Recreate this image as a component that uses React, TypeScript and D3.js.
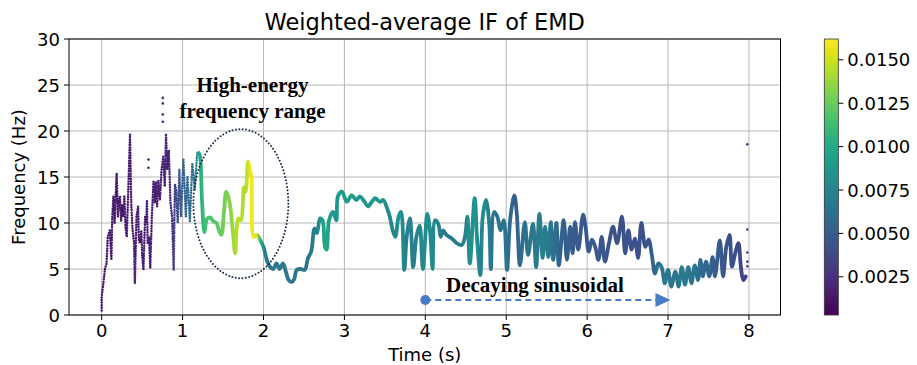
import React from "react";
import * as d3 from "d3";

// ---------- data ----------
// early (0–1.2 s), sparse oscillating samples
const EARLY_T = [0.0, 0.0, 0.02, 0.04, 0.06, 0.075, 0.09, 0.1, 0.12, 0.13, 0.145, 0.16, 0.175, 0.185, 0.2, 0.215, 0.226, 0.24, 0.255, 0.267, 0.28, 0.295, 0.31, 0.33, 0.35, 0.365, 0.38, 0.4, 0.41, 0.43, 0.45, 0.46, 0.475, 0.49, 0.5, 0.516, 0.537, 0.55, 0.56, 0.568, 0.585, 0.6, 0.62, 0.64, 0.655, 0.67, 0.685, 0.7, 0.72, 0.74, 0.76, 0.78, 0.795, 0.81, 0.83, 0.85, 0.87, 0.89, 0.905, 0.92, 0.94, 0.96, 0.98, 1.01, 1.04, 1.06, 1.09, 1.12, 1.15, 1.18, 1.2];
const EARLY_F = [0.5, 2.0, 3.4, 5.0, 5.6, 8.5, 8.9, 9.2, 6.0, 10.5, 12.9, 10.0, 13.5, 15.4, 10.7, 12.5, 12.9, 10.2, 12.0, 10.7, 12.9, 9.5, 8.5, 14.0, 19.6, 12.2, 9.5, 7.8, 3.4, 10.7, 11.8, 8.0, 7.8, 9.2, 6.5, 4.9, 10.7, 10.0, 12.5, 7.8, 8.5, 5.1, 10.7, 14.5, 12.2, 14.5, 11.8, 14.6, 12.5, 15.8, 17.2, 14.0, 19.7, 15.8, 17.9, 12.2, 10.7, 4.9, 14.2, 13.6, 10.0, 15.8, 10.7, 17.0, 10.7, 15.0, 10.2, 16.5, 13.6, 17.6, 17.6];
const EARLY_A = [0.0012, 0.0012, 0.0012, 0.0012, 0.0012, 0.0013, 0.0013, 0.0013, 0.0013, 0.0013, 0.0014, 0.0014, 0.0014, 0.0014, 0.0014, 0.0014, 0.0014, 0.0014, 0.0014, 0.0015, 0.0015, 0.0015, 0.0015, 0.0015, 0.0015, 0.0015, 0.0015, 0.0015, 0.0015, 0.0015, 0.0015, 0.0015, 0.0015, 0.0015, 0.0015, 0.0015, 0.0016, 0.0016, 0.0016, 0.0016, 0.0016, 0.0016, 0.0016, 0.0016, 0.0016, 0.0016, 0.0016, 0.0017, 0.0017, 0.0017, 0.0017, 0.0017, 0.0018, 0.0018, 0.0018, 0.002, 0.0024, 0.003, 0.0033, 0.0036, 0.004, 0.0045, 0.0048, 0.0052, 0.0055, 0.0057, 0.0058, 0.006, 0.0065, 0.008, 0.0095];

// main (1.2–7.96 s), dense samples
const MAIN_T = [1.2, 1.215, 1.24, 1.27, 1.3, 1.34, 1.38, 1.42, 1.45, 1.48, 1.51, 1.54, 1.58, 1.62, 1.65, 1.67, 1.69, 1.72, 1.76, 1.78, 1.81, 1.83, 1.85, 1.88, 1.92, 1.96, 2.0, 2.04, 2.08, 2.12, 2.16, 2.2, 2.24, 2.28, 2.31, 2.35, 2.38, 2.41, 2.46, 2.51, 2.55, 2.59, 2.63, 2.66, 2.7, 2.73, 2.76, 2.78, 2.81, 2.86, 2.9, 2.92, 2.97, 3.03, 3.09, 3.15, 3.19, 3.25, 3.29, 3.34, 3.38, 3.44, 3.48, 3.52, 3.56, 3.6, 3.63, 3.67, 3.7, 3.74, 3.77, 3.81, 3.85, 3.89, 3.93, 3.97, 4.025, 4.06, 4.09, 4.12, 4.16, 4.19, 4.22, 4.26, 4.33, 4.39, 4.45, 4.49, 4.52, 4.55, 4.61, 4.64, 4.68, 4.71, 4.75, 4.79, 4.81, 4.85, 4.89, 4.93, 4.97, 5.01, 5.05, 5.1, 5.13, 5.17, 5.23, 5.27, 5.33, 5.37, 5.41, 5.45, 5.48, 5.52, 5.55, 5.58, 5.62, 5.65, 5.71, 5.75, 5.79, 5.82, 5.85, 5.89, 5.95, 5.98, 6.02, 6.06, 6.1, 6.14, 6.18, 6.22, 6.27, 6.32, 6.37, 6.43, 6.47, 6.51, 6.55, 6.59, 6.63, 6.67, 6.72, 6.76, 6.8, 6.84, 6.88, 6.92, 6.96, 7.0, 7.04, 7.09, 7.13, 7.17, 7.21, 7.25, 7.29, 7.33, 7.37, 7.4, 7.43, 7.47, 7.51, 7.55, 7.58, 7.64, 7.68, 7.72, 7.76, 7.79, 7.83, 7.87, 7.9, 7.93, 7.96];
const MAIN_F = [17.6, 17.3, 12.5, 9.0, 10.4, 10.6, 10.2, 10.0, 9.2, 8.7, 11.0, 13.4, 12.3, 9.2, 6.7, 9.5, 10.5, 10.3, 13.9, 13.4, 16.7, 15.8, 15.0, 8.5, 8.7, 8.1, 7.4, 6.0, 5.25, 5.0, 5.6, 5.0, 5.6, 4.6, 3.8, 3.6, 3.9, 4.9, 5.0, 4.9, 6.2, 6.9, 9.4, 8.9, 10.5, 10.3, 7.4, 7.1, 10.3, 11.2, 10.3, 12.9, 13.4, 12.3, 13.0, 12.5, 12.9, 12.3, 11.8, 12.3, 12.7, 12.3, 12.5, 11.8, 10.7, 9.1, 8.5, 10.7, 11.2, 4.9, 8.5, 10.5, 5.2, 8.5, 9.7, 5.0, 11.0, 8.9, 5.0, 10.3, 9.9, 8.5, 9.2, 8.7, 8.3, 7.8, 7.6, 8.5, 10.7, 5.6, 12.7, 8.2, 4.35, 10.7, 12.5, 9.9, 5.0, 11.2, 10.7, 9.2, 10.3, 4.9, 10.5, 13.0, 11.1, 5.4, 10.1, 6.5, 9.9, 5.2, 11.0, 6.2, 9.6, 6.3, 10.1, 6.0, 10.0, 5.4, 10.3, 6.0, 9.6, 6.7, 10.1, 7.1, 10.9, 9.6, 6.9, 8.2, 7.4, 6.0, 8.5, 5.8, 7.8, 9.6, 7.8, 10.7, 6.7, 9.2, 7.1, 8.3, 6.2, 10.0, 7.4, 8.2, 6.5, 4.5, 5.6, 5.2, 3.45, 4.9, 3.1, 4.7, 3.1, 5.2, 3.3, 5.2, 3.45, 5.4, 3.8, 6.0, 4.2, 5.8, 4.2, 6.3, 4.2, 8.1, 4.2, 7.4, 8.7, 5.25, 6.7, 7.8, 5.25, 3.8, 4.2];
const MAIN_A = [0.0095, 0.01, 0.0108, 0.0112, 0.0115, 0.0118, 0.012, 0.0122, 0.0124, 0.0125, 0.0128, 0.013, 0.0132, 0.0138, 0.0142, 0.0145, 0.0146, 0.0145, 0.0142, 0.0145, 0.015, 0.0158, 0.016, 0.0158, 0.015, 0.0105, 0.008, 0.0068, 0.0065, 0.0065, 0.0066, 0.0066, 0.0067, 0.0066, 0.0066, 0.0066, 0.0066, 0.0066, 0.0066, 0.0064, 0.0064, 0.0066, 0.007, 0.0075, 0.0085, 0.0092, 0.0098, 0.0098, 0.0092, 0.0088, 0.0086, 0.0088, 0.009, 0.009, 0.009, 0.0089, 0.0088, 0.0087, 0.0086, 0.0086, 0.0086, 0.0085, 0.0085, 0.0082, 0.0078, 0.0075, 0.0075, 0.0085, 0.0085, 0.0072, 0.007, 0.0075, 0.007, 0.0074, 0.0076, 0.0078, 0.0082, 0.008, 0.0078, 0.008, 0.0074, 0.007, 0.0068, 0.0068, 0.0068, 0.0068, 0.007, 0.0074, 0.008, 0.0082, 0.0085, 0.0082, 0.007, 0.008, 0.0078, 0.007, 0.0065, 0.0065, 0.0064, 0.0064, 0.0064, 0.0062, 0.0056, 0.005, 0.0052, 0.0058, 0.0062, 0.0066, 0.0068, 0.0068, 0.007, 0.007, 0.007, 0.0068, 0.0066, 0.0062, 0.0058, 0.0055, 0.005, 0.005, 0.005, 0.0048, 0.0048, 0.0047, 0.0047, 0.0046, 0.0046, 0.0048, 0.0048, 0.0046, 0.0044, 0.0044, 0.0043, 0.0043, 0.0043, 0.0042, 0.0043, 0.0043, 0.0043, 0.0043, 0.0043, 0.0042, 0.0043, 0.0045, 0.005, 0.0058, 0.0062, 0.0065, 0.0066, 0.0066, 0.0066, 0.0066, 0.0067, 0.0067, 0.0067, 0.0066, 0.0065, 0.0064, 0.0062, 0.006, 0.0058, 0.0056, 0.0054, 0.005, 0.005, 0.0046, 0.0046, 0.0044, 0.0042, 0.0042, 0.004, 0.0038, 0.0036, 0.0034, 0.0032];

// isolated outlier dots
const DOT_T = [0.578, 0.578, 0.755, 0.755, 0.755, 0.755, 7.98, 7.98, 7.98, 7.98, 7.98];
const DOT_F = [16.9, 16.0, 23.6, 23.0, 21.8, 21.0, 18.55, 9.3, 6.8, 5.8, 5.3];
const DOT_A = [0.0016, 0.0016, 0.0017, 0.0017, 0.0017, 0.0017, 0.0028, 0.0028, 0.0028, 0.0028, 0.0028];

const X_TICKS = [0, 1, 2, 3, 4, 5, 6, 7, 8];
const Y_TICKS = [0, 5, 10, 15, 20, 25, 30];
const CB_TICKS = [0.0025, 0.005, 0.0075, 0.01, 0.0125, 0.015];
const CB_DOMAIN = [0.0003, 0.0162];

const TITLE = "Weighted-average IF of EMD";
const X_LABEL = "Time (s)";
const Y_LABEL = "Frequency (Hz)";
const NOTE1 = ["High-energy", "frequency range"];
const NOTE2 = "Decaying sinusoidal";
// annotation ellipse (data coords): centre t, centre f, radius t, radius f
const ELLIPSE = [1.72, 12.1, 0.587, 8.1];
// arrow: start t, end t, f
const ARROW = [4.0, 7.03, 1.63];

// ---------- layout ----------
const W = 917;
const H = 365;
const L = 69, R = 780.5, T = 39, B = 315;
const CBX = 824.3, CBW = 14;

export default function App() {
  const x = d3.scaleLinear().domain([-0.404, 8.39]).range([L, R]);
  const y = d3.scaleLinear().domain([0, 30]).range([B, T]);
  const color = d3.scaleSequential(d3.interpolateViridis).domain(CB_DOMAIN as [number, number]);
  const cb = d3.scaleLinear().domain(CB_DOMAIN).range([B, T]);
  const font = "DejaVu Sans, sans-serif";
  const serif = "Liberation Serif, 'Times New Roman', serif";

  const earlyPts = EARLY_T.map((t, i) => [x(t), y(EARLY_F[i])] as [number, number]);
  const mainPts = MAIN_T.map((t, i) => [x(t), y(MAIN_F[i])] as [number, number]);
  const earlyPath = d3.line()(earlyPts) || "";
  const mainPath = d3.line().curve(d3.curveCatmullRom.alpha(0.5))(mainPts) || "";

  const gradStops = (ts: number[], as: number[]) => {
    const x0 = x(ts[0]);
    const x1 = x(ts[ts.length - 1]);
    return ts.map((t, i) => ({ off: (x(t) - x0) / (x1 - x0), c: color(as[i]) }));
  };
  const earlyStops = gradStops(EARLY_T, EARLY_A);
  const mainStops = gradStops(MAIN_T, MAIN_A);

  const stops = d3.range(0, 1.0001, 0.05);
  const arrowY = y(ARROW[2]);
  const ax0 = x(ARROW[0]);
  const ax1 = x(ARROW[1]);
  const arrowColor = "#4a7bc6";

  return (
    <div style={{ position: "absolute", left: 0, top: 0 }}>
      <svg width={W} height={H} style={{ display: "block", background: "#fff" }}>
        <defs>
          <linearGradient id="vir" x1="0" y1="1" x2="0" y2="0">
            {stops.map((s) => (
              <stop key={s} offset={s} stopColor={d3.interpolateViridis(s)} />
            ))}
          </linearGradient>
          <linearGradient id="gEarly" gradientUnits="userSpaceOnUse" x1={x(EARLY_T[0])} x2={x(EARLY_T[EARLY_T.length - 1])} y1={0} y2={0}>
            {earlyStops.map((s, i) => (
              <stop key={i} offset={s.off} stopColor={s.c} />
            ))}
          </linearGradient>
          <linearGradient id="gMain" gradientUnits="userSpaceOnUse" x1={x(MAIN_T[0])} x2={x(MAIN_T[MAIN_T.length - 1])} y1={0} y2={0}>
            {mainStops.map((s, i) => (
              <stop key={i} offset={s.off} stopColor={s.c} />
            ))}
          </linearGradient>
          <clipPath id="plot">
            <rect x={L} y={T} width={R - L} height={B - T} />
          </clipPath>
        </defs>

        {/* grid */}
        {X_TICKS.map((t) => (
          <line key={"gx" + t} x1={x(t)} x2={x(t)} y1={T} y2={B} stroke="#b0b0b0" strokeWidth={0.9} />
        ))}
        {Y_TICKS.map((v) => (
          <line key={"gy" + v} x1={L} x2={R} y1={y(v)} y2={y(v)} stroke="#b0b0b0" strokeWidth={0.9} />
        ))}

        <g clipPath="url(#plot)">
          <path d={earlyPath} fill="none" stroke="url(#gEarly)" strokeWidth={2.5} strokeLinecap="round" strokeLinejoin="round" strokeDasharray="0 2.6" />
          <path d={mainPath} fill="none" stroke="url(#gMain)" strokeWidth={3.8} strokeLinecap="round" strokeLinejoin="round" />
          {DOT_T.map((t, i) => (
            <circle key={"d" + i} cx={x(t)} cy={y(DOT_F[i])} r={1.3} fill={color(DOT_A[i])} />
          ))}
        </g>

        {/* annotations */}
        <ellipse
          cx={x(ELLIPSE[0])}
          cy={y(ELLIPSE[1])}
          rx={x(ELLIPSE[0] + ELLIPSE[2]) - x(ELLIPSE[0])}
          ry={y(ELLIPSE[1]) - y(ELLIPSE[1] + ELLIPSE[3])}
          fill="none"
          stroke="#1b2b4a"
          strokeWidth={2}
          strokeLinecap="round"
          strokeDasharray="0 3.4"
        />
        <text x={252.5} y={92} textAnchor="middle" fontFamily={serif} fontWeight="bold" fontSize={21}>{NOTE1[0]}</text>
        <text x={252.5} y={118} textAnchor="middle" fontFamily={serif} fontWeight="bold" fontSize={21}>{NOTE1[1]}</text>
        <text x={446} y={291.5} fontFamily={serif} fontWeight="bold" fontSize={21}>{NOTE2}</text>
        <line x1={ax0} x2={ax1 - 14} y1={arrowY} y2={arrowY} stroke={arrowColor} strokeWidth={2} strokeDasharray="6 4" />
        <circle cx={ax0} cy={arrowY} r={5} fill={arrowColor} />
        <polygon points={`${ax1},${arrowY} ${ax1 - 15},${arrowY - 7} ${ax1 - 15},${arrowY + 7}`} fill={arrowColor} />

        {/* spines */}
        <rect x={L} y={T} width={R - L} height={B - T} fill="none" stroke="#000" strokeWidth={1} />

        {/* x ticks */}
        {X_TICKS.map((t) => (
          <g key={"xt" + t}>
            <line x1={x(t)} x2={x(t)} y1={B} y2={B + 5} stroke="#000" />
            <text x={x(t)} y={B + 22} textAnchor="middle" fontFamily={font} fontSize={18} fill="#000">{t}</text>
          </g>
        ))}
        {Y_TICKS.map((v) => (
          <g key={"yt" + v}>
            <line x1={L - 5} x2={L} y1={y(v)} y2={y(v)} stroke="#000" />
            <text x={L - 9} y={y(v)} textAnchor="end" dominantBaseline="central" fontFamily={font} fontSize={18} fill="#000">{v}</text>
          </g>
        ))}

        <text x={(L + R) / 2} y={361} textAnchor="middle" fontFamily={font} fontSize={18}>{X_LABEL}</text>
        <text transform={`translate(25,${(T + B) / 2}) rotate(-90)`} textAnchor="middle" fontFamily={font} fontSize={18}>{Y_LABEL}</text>
        <text x={(L + R) / 2} y={30} textAnchor="middle" fontFamily={font} fontSize={22.5}>{TITLE}</text>

        {/* colorbar */}
        <rect x={CBX} y={T} width={CBW} height={B - T} fill="url(#vir)" stroke="#333" strokeWidth={0.8} />
        {CB_TICKS.map((v) => (
          <g key={"cb" + v}>
            <line x1={CBX + CBW} x2={CBX + CBW + 5} y1={cb(v)} y2={cb(v)} stroke="#000" />
            <text x={CBX + CBW + 9} y={cb(v)} dominantBaseline="central" fontFamily={font} fontSize={18} fill="#000">{v.toFixed(4)}</text>
          </g>
        ))}
      </svg>
    </div>
  );
}
